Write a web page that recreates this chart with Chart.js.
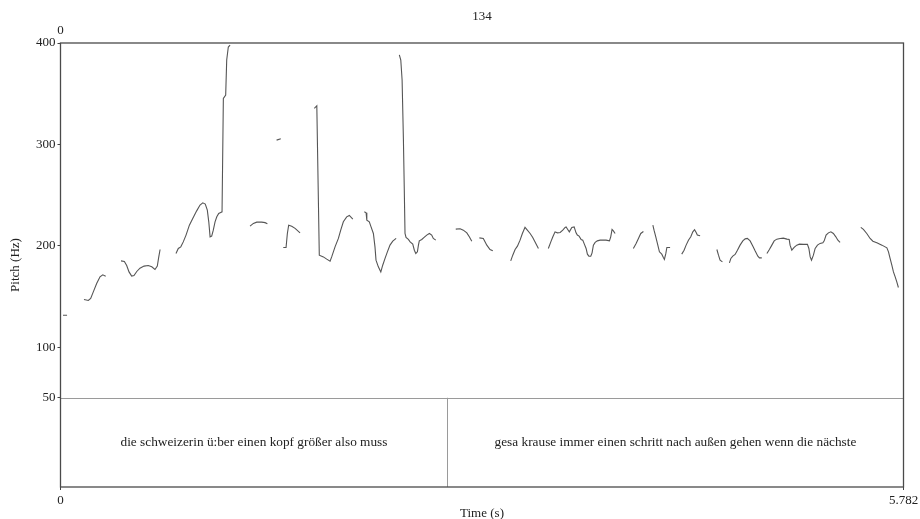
<!DOCTYPE html>
<html>
<head>
<meta charset="utf-8">
<script src="https://cdn.jsdelivr.net/npm/chart.js@4.4.1/dist/chart.umd.min.js"></script>
<style>
  html, body { margin: 0; padding: 0; background: #fff; }
  canvas { display: block; }
</style>
</head>
<body>
<canvas id="pitch" width="920" height="519"></canvas>
<script>
// Voiced stretches of the pitch track: time (s) and F0 (Hz), one array per stretch
const contourTimes = [
  [0.017, 0.045],
  [0.161, 0.191, 0.207, 0.225, 0.248, 0.271, 0.290, 0.310],
  [0.415, 0.438, 0.454, 0.470, 0.488, 0.504, 0.523, 0.545, 0.573, 0.602, 0.626, 0.648, 0.664, 0.674, 0.683],
  [0.792, 0.808, 0.825, 0.842, 0.861, 0.884, 0.907, 0.934, 0.957, 0.976, 0.993, 1.007, 1.017, 1.026, 1.037, 1.048, 1.060, 1.072, 1.085, 1.099, 1.108, 1.117, 1.133, 1.140, 1.151, 1.163],
  [1.300, 1.323, 1.346, 1.380, 1.403, 1.419],
  [1.482, 1.511],
  [1.528, 1.547, 1.556, 1.565, 1.586, 1.609, 1.643],
  [1.741, 1.758, 1.775, 1.803, 1.826, 1.849, 1.860, 1.883, 1.906, 1.922, 1.940, 1.963, 1.981, 2.005],
  [2.084, 2.096, 2.101, 2.118, 2.130, 2.146, 2.157, 2.164, 2.180, 2.197, 2.210, 2.226, 2.242, 2.260, 2.279, 2.302],
  [2.324, 2.334, 2.343, 2.352, 2.358, 2.363, 2.370, 2.386, 2.398, 2.416, 2.427, 2.437, 2.448, 2.455, 2.461, 2.478, 2.494, 2.512, 2.530, 2.546, 2.557, 2.574],
  [2.711, 2.741, 2.763, 2.787, 2.804, 2.821],
  [2.873, 2.900, 2.924, 2.946, 2.965],
  [3.088, 3.102, 3.118, 3.134, 3.152, 3.168, 3.186, 3.202, 3.221, 3.239, 3.255, 3.278],
  [3.346, 3.363, 3.377, 3.392, 3.408, 3.427, 3.445, 3.461, 3.468, 3.479, 3.490, 3.507, 3.523, 3.536, 3.545, 3.557, 3.571, 3.582, 3.593, 3.605, 3.614, 3.624, 3.637, 3.646, 3.655, 3.667, 3.682, 3.701, 3.720, 3.742, 3.765, 3.774, 3.783, 3.792, 3.804],
  [3.929, 3.948, 3.964, 3.980, 3.998],
  [4.063, 4.071, 4.083, 4.094, 4.108, 4.124, 4.135, 4.142, 4.152, 4.159, 4.170, 4.181],
  [4.261, 4.277, 4.291, 4.307, 4.323, 4.337, 4.349, 4.360, 4.368, 4.387],
  [4.502, 4.513, 4.524, 4.540],
  [4.588, 4.598, 4.611, 4.627, 4.643, 4.661, 4.680, 4.696, 4.711, 4.730, 4.749, 4.764, 4.783, 4.794, 4.810],
  [4.845, 4.862, 4.879, 4.895, 4.913, 4.936, 4.958, 4.982, 4.998, 5.004, 5.016, 5.032, 5.050, 5.068, 5.096, 5.123, 5.133, 5.142, 5.151, 5.164, 5.176, 5.192, 5.210, 5.229, 5.238, 5.251, 5.267, 5.284, 5.301, 5.318, 5.332, 5.347],
  [5.489, 5.507, 5.530, 5.553, 5.572, 5.599, 5.634, 5.668, 5.679, 5.690, 5.702, 5.713, 5.725, 5.736, 5.747]
];
const contourHz = [
  [131.5, 131.5],
  [147.0, 146.0, 148.0, 154.5, 162.8, 169.3, 171.3, 170.0],
  [185.1, 184.5, 180.5, 174.2, 170.0, 170.7, 174.6, 177.9, 179.9, 180.5, 179.2, 176.6, 179.9, 189.0, 196.3],
  [192.4, 197.3, 198.9, 203.8, 210.5, 220.3, 226.9, 234.4, 240.1, 242.3, 241.1, 235.1, 223.6, 208.8, 209.5, 215.4, 223.6, 228.5, 231.9, 232.9, 233.5, 345.4, 348.7, 383.2, 396.0, 398.0],
  [219.3, 222.0, 223.3, 223.3, 222.8, 221.8],
  [304.2, 305.5],
  [198.3, 198.3, 212.1, 220.3, 219.3, 217.1, 212.7],
  [335.5, 338.1, 190.7, 189.0, 186.8, 184.8, 189.0, 198.9, 207.2, 215.4, 223.6, 228.5, 229.9, 226.3],
  [233.5, 232.5, 225.3, 223.6, 218.6, 212.1, 198.9, 185.8, 179.2, 174.2, 180.8, 187.5, 194.0, 200.6, 204.5, 207.2],
  [388.2, 383.2, 363.5, 304.2, 254.9, 212.1, 208.2, 206.2, 203.8, 201.6, 195.6, 192.4, 194.0, 200.6, 204.8, 206.2, 208.2, 210.5, 212.1, 210.5, 207.2, 205.5],
  [216.4, 216.7, 215.4, 212.7, 208.8, 204.5],
  [207.8, 207.2, 200.6, 196.3, 195.0],
  [185.1, 190.7, 196.3, 199.6, 205.5, 212.1, 218.1, 215.4, 212.1, 208.2, 203.8, 197.3],
  [197.3, 203.8, 208.8, 213.7, 212.7, 213.1, 215.4, 218.1, 218.6, 216.1, 213.7, 218.1, 218.6, 212.7, 210.5, 209.5, 206.2, 205.5, 201.6, 197.3, 191.7, 189.7, 189.7, 193.0, 200.6, 203.3, 204.8, 205.5, 205.5, 205.5, 204.8, 208.8, 216.1, 214.7, 212.1],
  [197.3, 202.3, 207.2, 212.1, 214.1],
  [220.3, 215.4, 208.8, 202.3, 194.0, 191.7, 188.4, 186.5, 192.4, 198.3, 198.3, 198.3],
  [191.7, 195.6, 200.6, 205.5, 208.8, 213.7, 215.9, 213.1, 210.5, 209.8],
  [196.3, 190.7, 185.8, 184.1],
  [183.1, 187.5, 189.7, 191.4, 195.6, 200.6, 204.8, 206.8, 207.2, 204.8, 199.6, 195.0, 189.7, 188.0, 188.0],
  [192.4, 196.3, 200.6, 204.8, 206.5, 207.2, 207.5, 206.5, 206.2, 200.6, 195.6, 198.3, 200.6, 201.6, 201.3, 201.3, 197.3, 189.0, 185.8, 190.7, 197.3, 200.6, 202.3, 202.9, 204.8, 210.5, 212.7, 213.7, 212.1, 208.8, 205.5, 203.3],
  [218.1, 216.1, 212.1, 207.2, 204.5, 202.9, 200.6, 197.9, 194.0, 187.5, 180.8, 174.2, 169.3, 164.4, 158.8]
];

// Axis ticks
const yTickValues = [50, 100, 200, 300, 400];
const xTickValues = [0, 5.782];
const xTickLabels = ['0', '5.782'];
const topTickValues = [0];
const topTickLabels = ['0'];

// Text tier below the pitch panel
const tierFloorHz = 50;
const tierBounds = [0, 2.654, 5.782];
const tierLabels = [
  'die schweizerin ü:ber einen kopf größer also muss',
  'gesa krause immer einen schritt nach außen gehen wenn die nächste'
];
const figureTitle = '134';

const FONT = '"Liberation Serif", "Times New Roman", serif';
Chart.defaults.font.family = FONT;
Chart.defaults.font.size = 13;
Chart.defaults.color = '#222';

const datasets = contourTimes.map((ts, i) => ({
  data: ts.map((t, j) => ({ x: t, y: contourHz[i][j] })),
  borderColor: '#555',
  borderWidth: 1.1,
  pointRadius: 0,
  tension: 0,
  fill: false
}));

// Frame, tier boundary lines and tier texts
const tierPlugin = {
  id: 'tierPlugin',
  afterDatasetsDraw(chart) {
    const { ctx, chartArea: a, scales } = chart;
    const yFloor = scales.y.getPixelForValue(tierFloorHz);
    ctx.save();
    ctx.lineWidth = 1;
    ctx.strokeStyle = '#9a9a9a';
    ctx.beginPath();
    ctx.moveTo(a.left, Math.round(yFloor) + 0.5);
    ctx.lineTo(a.right, Math.round(yFloor) + 0.5);
    for (let i = 1; i < tierBounds.length - 1; i++) {
      const px = Math.round(scales.x.getPixelForValue(tierBounds[i])) + 0.5;
      ctx.moveTo(px, yFloor);
      ctx.lineTo(px, a.bottom);
    }
    ctx.stroke();

    ctx.fillStyle = '#222';
    ctx.font = '13.3px ' + FONT;
    ctx.textAlign = 'center';
    ctx.textBaseline = 'middle';
    const midY = (yFloor + a.bottom) / 2;
    tierLabels.forEach((label, i) => {
      const x0 = scales.x.getPixelForValue(tierBounds[i]);
      const x1 = scales.x.getPixelForValue(tierBounds[i + 1]);
      ctx.fillText(label, (x0 + x1) / 2, midY);
    });

    ctx.strokeStyle = '#4a4a4a';
    ctx.lineWidth = 1.3;
    ctx.strokeRect(a.left, a.top, a.right - a.left, a.bottom - a.top);
    ctx.restore();
  }
};

new Chart(document.getElementById('pitch'), {
  type: 'line',
  data: { datasets },
  options: {
    responsive: false,
    animation: false,
    events: [],
    layout: { padding: { left: 0, right: 16.5, top: 0, bottom: 0 } },
    plugins: {
      legend: { display: false },
      tooltip: { enabled: false },
      title: {
        display: true,
        text: figureTitle,
        fullSize: false,
        color: '#222',
        font: { size: 13, weight: 'normal' },
        padding: { top: 8.5, bottom: 0 }
      }
    },
    scales: {
      x: {
        type: 'linear',
        position: 'bottom',
        min: 0,
        max: 5.782,
        afterBuildTicks: s => { s.ticks = xTickValues.map(v => ({ value: v })); },
        afterFit: s => { s.height = 32; s.paddingLeft = 0; s.paddingRight = 0; },
        ticks: {
          autoSkip: false,
          maxRotation: 0,
          padding: 3,
          color: '#222',
          callback: v => xTickLabels[xTickValues.indexOf(v)]
        },
        grid: { drawOnChartArea: false, drawTicks: true, tickLength: 3, tickColor: '#444' },
        border: { display: false },
        title: { display: true, text: 'Time (s)', color: '#222', padding: { top: 0, bottom: -2 } }
      },
      x2: {
        type: 'linear',
        position: 'top',
        min: 0,
        max: 5.782,
        afterBuildTicks: s => { s.ticks = topTickValues.map(v => ({ value: v })); },
        afterFit: s => { s.height = 18.9; s.paddingLeft = 0; s.paddingRight = 0; },
        ticks: {
          autoSkip: false,
          maxRotation: 0,
          padding: 4.5,
          color: '#222',
          callback: v => topTickLabels[topTickValues.indexOf(v)]
        },
        grid: { drawOnChartArea: false, drawTicks: false },
        border: { display: false }
      },
      y: {
        type: 'linear',
        position: 'left',
        min: -38,
        max: 400,
        afterBuildTicks: s => { s.ticks = yTickValues.map(v => ({ value: v })); },
        afterFit: s => { s.width = 60.5; s.paddingTop = 0; s.paddingBottom = 0; },
        ticks: { padding: 2, color: '#222', callback: v => String(v) },
        grid: { drawOnChartArea: false, drawTicks: true, tickLength: 3, tickColor: '#444' },
        border: { display: false },
        title: { display: true, text: 'Pitch (Hz)', color: '#222', padding: { top: 7.5, bottom: 0 } }
      }
    }
  },
  plugins: [tierPlugin]
});
</script>
</body>
</html>
